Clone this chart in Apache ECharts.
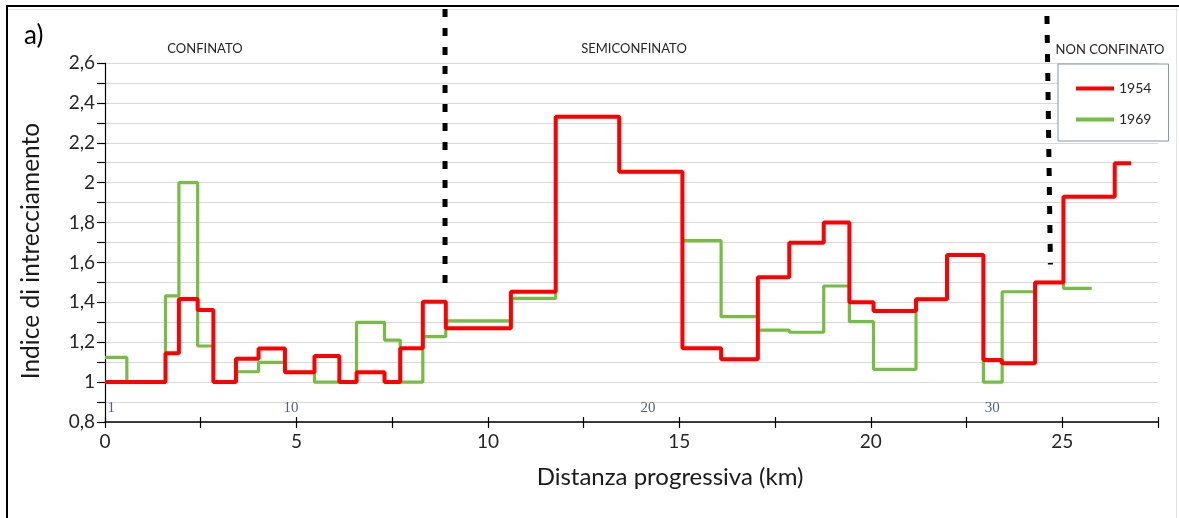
<!DOCTYPE html>
<html>
<head>
<meta charset="utf-8">
<script src="https://cdn.jsdelivr.net/npm/echarts@6/dist/echarts.min.js"></script>
<style>
  html, body { margin: 0; padding: 0; background: #ffffff; }
  #chart { width: 1179px; height: 518px; }
</style>
</head>
<body>
<div id="chart"></div>
<script>
// ---- data ----
const seriesNames = ['1954', '1969'];
// 1954: segment edges (km) and values for each segment
const redEdges = [0, 1.58, 1.93, 2.42, 2.83, 3.42, 4.01, 4.70, 5.47, 6.12, 6.57, 7.30, 7.71, 8.30, 8.90, 10.60, 11.77, 13.43, 15.08, 16.09, 17.05, 17.87, 18.77, 19.44, 20.07, 21.18, 21.99, 22.94, 23.42, 24.29, 25.03, 26.37, 26.80];
const redValues = [1.00, 1.145, 1.417, 1.362, 1.00, 1.117, 1.168, 1.049, 1.131, 1.00, 1.049, 1.00, 1.17, 1.403, 1.27, 1.453, 2.331, 2.055, 1.17, 1.114, 1.526, 1.699, 1.80, 1.40, 1.357, 1.415, 1.637, 1.111, 1.094, 1.50, 1.93, 2.097];
// 1969
const greenEdges = [0, 0.57, 1.58, 1.93, 2.42, 2.83, 3.42, 4.01, 4.70, 5.47, 6.57, 7.30, 7.71, 8.30, 8.90, 10.60, 11.77, 13.43, 15.08, 16.09, 17.05, 17.87, 18.77, 19.44, 20.07, 21.18, 21.99, 22.94, 23.43, 24.29, 25.03, 25.77];
const greenValues = [1.124, 1.00, 1.432, 2.00, 1.181, 1.00, 1.052, 1.099, 1.049, 1.00, 1.30, 1.211, 1.00, 1.228, 1.307, 1.42, 2.331, 2.055, 1.709, 1.328, 1.261, 1.25, 1.482, 1.303, 1.064, 1.415, 1.637, 1.00, 1.453, 1.50, 1.47];
// section numbers shown along the bottom of the plot
const sectionLabels = ['1', '10', '20', '30'];
const sectionKm = [0.16, 4.86, 14.18, 23.17];
const sectionY = [0.869, 0.869, 0.869, 0.869];
// boundaries between reaches (dashed lines): [km, value] from top to bottom
const boundary1 = [[8.88, 2.871], [8.88, 1.465]];
const boundary2 = [[24.60, 2.836], [24.69, 1.59]];
const regionLabels = ['CONFINATO', 'SEMICONFINATO', 'NON CONFINATO'];
// axis settings
const xMin = 0, xMax = 27.5, xStep = 2.5, xLabelEvery = 5;
const yMin = 0.8, yMax = 2.6, yStep = 0.2;

function buildSteps(edges, values) {
  const d = [];
  for (let i = 0; i < values.length; i++) d.push([edges[i], values[i]]);
  d.push([edges[edges.length - 1], values[values.length - 1]]);
  return d;
}
function fmtY(v) {
  const r = Math.round(v * 10) / 10;
  return String(r).replace('.', ',');
}

const FONT = 'Lato';
const chart = echarts.init(document.getElementById('chart'), null, { renderer: 'canvas' });

const gridBox = { left: 105, top: 63, right: 21, bottom: 96 };

const option = {
  backgroundColor: '#ffffff',
  animation: false,
  textStyle: { fontFamily: FONT },
  grid: [
    Object.assign({ containLabel: false }, gridBox),
    Object.assign({ containLabel: false }, gridBox)
  ],
  legend: {
    data: seriesNames,
    orient: 'vertical',
    left: 1058, top: 64,
    padding: [16, 17, 13, 18],
    icon: 'rect',
    itemWidth: 38, itemHeight: 4, itemGap: 14,
    backgroundColor: '#ffffff',
    borderColor: '#8497b0', borderWidth: 1, borderRadius: 0,
    textStyle: { fontFamily: FONT, fontSize: 14, lineHeight: 17, color: '#262626' },
    selectedMode: false
  },
  xAxis: [
    {
      type: 'value', gridIndex: 0, min: xMin, max: xMax, interval: xStep,
      axisLine: { show: true, onZero: false, lineStyle: { color: '#000000', width: 1.5 } },
      axisTick: { show: true, length: 6, lineStyle: { color: '#000000', width: 1.2 } },
      axisLabel: {
        show: true, fontFamily: FONT, fontSize: 19, color: '#262626', margin: 10,
        formatter: v => (Math.abs(v / xLabelEvery - Math.round(v / xLabelEvery)) < 1e-6 ? String(Math.round(v)) : '')
      },
      splitLine: { show: false }
    },
    {
      type: 'value', gridIndex: 1, min: xMin, max: xMax, interval: xStep,
      axisLine: { show: false, onZero: false },
      axisTick: { show: true, inside: true, length: 5, lineStyle: { color: '#000000', width: 1.2 } },
      axisLabel: { show: false },
      splitLine: { show: false }
    }
  ],
  yAxis: [
    {
      type: 'value', gridIndex: 0, min: yMin, max: yMax, interval: yStep,
      axisLine: { show: true, onZero: false, lineStyle: { color: '#000000', width: 1.2 } },
      axisTick: { show: true, length: 8, lineStyle: { color: '#000000', width: 1.2 } },
      minorTick: { show: true, splitNumber: 2, length: 8, lineStyle: { color: '#000000', width: 1.2 } },
      axisLabel: { show: true, fontFamily: FONT, fontSize: 19, color: '#262626', margin: 10, formatter: fmtY },
      splitLine: { show: true, lineStyle: { color: '#d9d9d9', width: 1.2 } },
      minorSplitLine: { show: true, lineStyle: { color: '#d9d9d9', width: 1.2 } }
    },
    {
      type: 'value', gridIndex: 1, min: yMin, max: yMax, interval: yStep,
      axisLine: { show: false }, axisTick: { show: false }, axisLabel: { show: false },
      splitLine: { show: false }
    }
  ],
  series: [
    {
      name: 'sections', type: 'scatter', xAxisIndex: 0, yAxisIndex: 0,
      symbolSize: 0, silent: true, z: 1,
      data: sectionLabels.map((t, i) => ({ name: t, value: [sectionKm[i], sectionY[i]] })),
      label: {
        show: true, position: 'inside', formatter: p => p.name,
        fontFamily: 'Liberation Serif', fontSize: 15, color: '#2c3a5a'
      }
    },
    {
      name: 'b1', type: 'line', xAxisIndex: 0, yAxisIndex: 0, clip: false, silent: true,
      symbol: 'none', data: boundary1, z: 3,
      lineStyle: { color: '#000000', width: 5, type: [8, 11], cap: 'butt' }
    },
    {
      name: 'b2', type: 'line', xAxisIndex: 0, yAxisIndex: 0, clip: false, silent: true,
      symbol: 'none', data: boundary2, z: 3,
      lineStyle: { color: '#000000', width: 5, type: [8, 11], cap: 'butt' }
    },
    {
      name: seriesNames[1], type: 'line', step: 'end', xAxisIndex: 0, yAxisIndex: 0,
      symbol: 'none', data: buildSteps(greenEdges, greenValues), z: 4,
      color: '#76bd44',
      lineStyle: { color: '#76bd44', width: 3.2 }
    },
    {
      name: seriesNames[0], type: 'line', step: 'end', xAxisIndex: 0, yAxisIndex: 0,
      symbol: 'none', data: buildSteps(redEdges, redValues), z: 5,
      color: '#ff0000',
      lineStyle: { color: '#ff0000', width: 4 }
    }
  ],
  graphic: [
    // outer frame
    { type: 'rect', shape: { x: 6, y: 5, width: 2, height: 520 }, style: { fill: '#000000' }, silent: true },
    { type: 'rect', shape: { x: 6, y: 5, width: 1180, height: 2 }, style: { fill: '#000000' }, silent: true },
    { type: 'rect', shape: { x: 8, y: 9, width: 1170, height: 1 }, style: { fill: '#e3e3e3' }, silent: true },
    { type: 'rect', shape: { x: 1176, y: 9, width: 1, height: 520 }, style: { fill: '#e3e3e3' }, silent: true },
    // panel tag
    { type: 'text', left: 24, top: 23, style: { text: 'a)', font: '26px ' + FONT, fill: '#000000' }, silent: true },
    // region labels
    { type: 'text', x: 205, y: 49, style: { text: regionLabels[0], font: '13px ' + FONT, fill: '#262626', align: 'center', verticalAlign: 'middle' }, silent: true },
    { type: 'text', x: 634, y: 49, style: { text: regionLabels[1], font: '13px ' + FONT, fill: '#262626', align: 'center', verticalAlign: 'middle' }, silent: true },
    { type: 'text', x: 1110, y: 50, style: { text: regionLabels[2], font: '13px ' + FONT, fill: '#262626', align: 'center', verticalAlign: 'middle' }, silent: true },
    // axis titles
    { type: 'text', x: 670, y: 477, style: { text: 'Distanza progressiva (km)', font: '24px ' + FONT, fill: '#1a1a1a', align: 'center', verticalAlign: 'middle' }, silent: true },
    { type: 'text', x: 31, y: 251, rotation: Math.PI / 2, style: { text: 'Indice di intrecciamento', font: '24.5px ' + FONT, fill: '#1a1a1a', align: 'center', verticalAlign: 'middle' }, silent: true }
  ]
};
chart.setOption(option);
</script>
</body>
</html>
